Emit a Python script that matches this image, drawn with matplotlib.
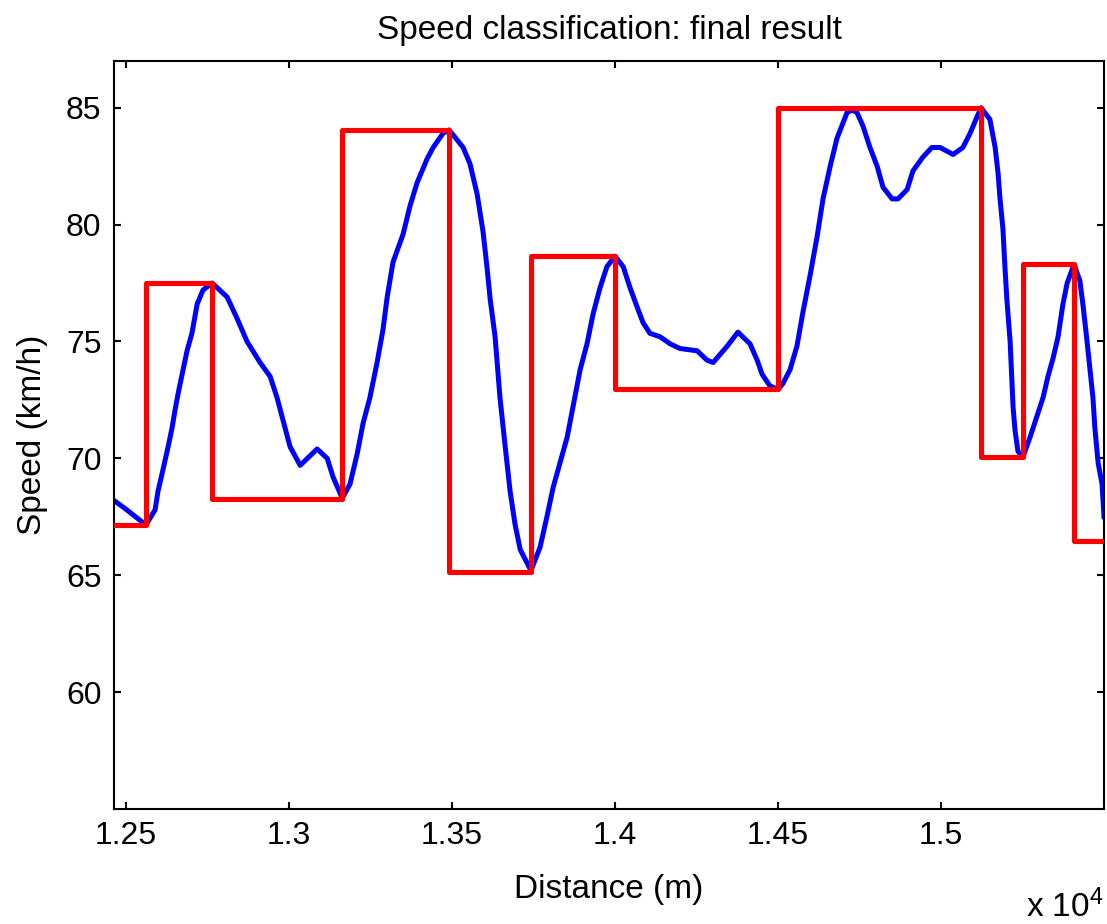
import numpy as np
import matplotlib
matplotlib.use("Agg")
import matplotlib.pyplot as plt

plt.rcParams['font.family'] = ['Liberation Sans', 'DejaVu Sans']
plt.rcParams['mathtext.default'] = 'regular'

# measured speed profile (distance in m, speed in km/h)
dist = [12463, 12497, 12561, 12589, 12598, 12613, 12629, 12641, 12650, 12660,
        12672, 12687, 12702, 12718, 12736, 12764, 12810, 12840, 12871, 12911,
        12942, 12963, 12982, 13003, 13034, 13086, 13117, 13135, 13163, 13187,
        13209, 13227, 13248, 13270, 13288, 13301, 13319, 13350, 13371, 13393,
        13423, 13442, 13472, 13491, 13534, 13555, 13577, 13595, 13607, 13617,
        13632, 13647, 13663, 13678, 13693, 13709, 13742, 13770, 13791, 13810,
        13831, 13853, 13871, 13893, 13914, 13933, 13954, 13975, 14000, 14025,
        14046, 14067, 14086, 14107, 14138, 14169, 14199, 14252, 14282, 14301,
        14344, 14377, 14414, 14436, 14451, 14475, 14500, 14515, 14537, 14558,
        14577, 14598, 14620, 14638, 14660, 14681, 14712, 14727, 14742, 14761,
        14782, 14804, 14822, 14850, 14868, 14896, 14914, 14945, 14972, 14997,
        15037, 15067, 15089, 15110, 15123, 15150, 15166, 15175, 15181, 15190,
        15196, 15202, 15212, 15221, 15227, 15236, 15251, 15273, 15294, 15313,
        15328, 15344, 15359, 15374, 15387, 15408, 15426, 15436, 15448, 15466,
        15472, 15482, 15494, 15500]
speed = [68.2, 67.85, 67.15, 67.8, 68.6, 69.5, 70.5, 71.3, 72.05, 72.8,
         73.6, 74.6, 75.35, 76.6, 77.2, 77.5, 76.9, 76.0, 75.0, 74.1,
         73.5, 72.6, 71.6, 70.5, 69.7, 70.4, 70.0, 69.2, 68.3, 68.9,
         70.2, 71.5, 72.6, 74.1, 75.5, 76.9, 78.4, 79.6, 80.8, 81.8,
         82.8, 83.3, 83.9, 84.05, 83.3, 82.6, 81.3, 79.7, 78.2, 76.8,
         75.2, 72.6, 70.5, 68.6, 67.2, 66.1, 65.2, 66.2, 67.5, 68.75,
         69.8, 70.9, 72.2, 73.8, 74.9, 76.2, 77.3, 78.2, 78.65, 78.2,
         77.3, 76.5, 75.8, 75.35, 75.2, 74.9, 74.7, 74.6, 74.2, 74.1,
         74.8, 75.4, 74.9, 74.2, 73.6, 73.1, 72.95, 73.2, 73.8, 74.8,
         76.3, 77.8, 79.5, 81.1, 82.5, 83.7, 84.8, 84.9, 84.8, 84.2,
         83.3, 82.5, 81.6, 81.1, 81.1, 81.5, 82.3, 82.9, 83.3, 83.3,
         83.0, 83.3, 83.9, 84.6, 85.0, 84.5, 83.3, 82.2, 81.1, 79.8,
         78.2, 76.8, 75.0, 72.2, 71.2, 70.3, 70.05, 70.9, 71.8, 72.6,
         73.5, 74.3, 75.2, 76.6, 77.5, 78.3, 77.6, 76.5, 75.0, 72.6,
         71.3, 69.8, 68.9, 67.5]

# speed classes (segment edges and class speed)
class_edges = [12463, 12561, 12764, 13163, 13491, 13742, 14000, 14500,
               15123, 15251, 15408, 15500]
class_speed = [67.15, 77.5, 68.25, 84.05, 65.15, 78.65, 72.95, 85.0,
               70.05, 78.3, 66.45]

fig = plt.figure(figsize=(11.07, 9.24), dpi=100)
ax = fig.add_axes([0.103, 0.1245, 0.8943, 0.8095])

ax.plot(dist, speed, color='#0000ff', lw=3.6, zorder=2)
ax.step(class_edges, class_speed + [class_speed[-1]], where='post',
        color='#ff0000', lw=3.7, zorder=3)

ax.set_xlim(12463, 15500)
ax.set_ylim(55, 87)
xt = [12500, 13000, 13500, 14000, 14500, 15000]
ax.set_xticks(xt)
ax.set_xticklabels(['1.25', '1.3', '1.35', '1.4', '1.45', '1.5'])
ax.set_yticks([60, 65, 70, 75, 80, 85])
ax.tick_params(direction='in', length=5, width=1.5, labelsize=23,
               top=True, right=True, pad=9)
for s in ax.spines.values():
    s.set_linewidth(1.5)

ax.set_title('Speed classification: final result', fontsize=24, pad=16)
ax.set_xlabel('Distance (m)', fontsize=24, labelpad=16)
ax.set_ylabel('Speed (km/h)', fontsize=24, labelpad=13)
fig.text(0.997, 0.007, r'x 10$^{4}$', ha='right', va='baseline',
         fontsize=24)

fig.savefig('out.png', dpi=100)
